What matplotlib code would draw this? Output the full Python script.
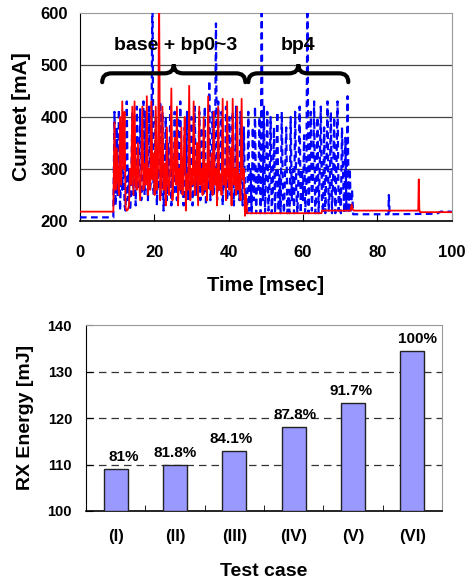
import numpy as np
import matplotlib
matplotlib.use("Agg")
import matplotlib.pyplot as plt
from matplotlib.path import Path
from matplotlib.patches import PathPatch

plt.rcParams['font.family'] = ['Liberation Sans', 'DejaVu Sans']
plt.rcParams['font.weight'] = 'bold'

# ---------------- top chart data ----------------
DT = 0.3
red_pre_t = [0.0, 9.0]
red_pre_v = [218, 218]
red_burst_start = 9.0
red_burst = [
    225, 390, 260, 340, 280, 250, 400, 270, 430, 300,
    410, 225, 220, 222, 230, 300, 270, 420, 250, 430,
    270, 260, 350, 280, 240, 300, 420, 260, 310, 270,
    440, 250, 300, 260, 430, 280, 330, 250, 420, 260,
    300, 640, 240, 280, 420, 260, 310, 230, 380, 270,
    250, 300, 455, 240, 290, 360, 270, 420, 230, 300,
    260, 380, 250, 310, 400, 220, 290, 260, 460, 240,
    300, 270, 430, 250, 280, 350, 230, 420, 270, 300,
    250, 400, 260, 310, 240, 440, 280, 260, 330, 250,
    410, 270, 300, 230, 420, 260, 290, 250, 435, 270,
    300, 240, 430, 280, 260, 340, 230, 435, 270, 300,
    250, 420, 260, 290, 240, 435, 280, 300, 210, 250,
    215,
]
red_post_t = [45.3, 65.0, 65.1, 72.8, 73.1, 73.4, 73.7, 91.0, 91.15, 91.3, 91.5, 100.0]
red_post_v = [215, 215, 220, 220, 232, 222, 220, 220, 280, 222, 217, 217]

blue_pre_t = [0.0, 9.0]
blue_pre_v = [207, 207]
blue_burst_start = 9.0
blue_burst = [
    215, 410, 230, 380, 250, 415, 220, 300, 260, 400,
    230, 220, 430, 240, 300, 220, 260, 410, 250, 350,
    230, 420, 260, 300, 415, 240, 270, 430, 250, 410,
    280, 240, 420, 260, 300, 650, 250, 280, 400, 230,
    300, 260, 430, 250, 410, 220, 290, 400, 240, 350,
    260, 420, 230, 300, 250, 410, 270, 240, 400, 260,
    430, 250, 300, 230, 380, 270, 410, 240, 290, 260,
    400, 230, 280, 420, 250, 300, 260, 410, 240, 380,
    270, 250, 420, 230, 300, 260, 470, 240, 280, 410,
    250, 300, 580, 240, 430, 260, 290, 410, 230, 300,
    260, 420, 240, 280, 400, 250, 300, 410, 230, 270,
    420, 250, 300, 240, 410, 260, 230, 380, 260, 240,
    215, 410, 220, 300, 215, 380, 240, 420, 215, 300,
    260, 400, 215, 650, 240, 420, 215, 300, 410, 220,
    270, 400, 215, 260, 380, 215, 300, 410, 220, 290,
    215, 410, 250, 215, 300, 380, 215, 260, 215, 400,
    240, 300, 215, 410, 260, 215, 290, 420, 215, 300,
    240, 365, 215, 270, 650, 215, 300, 410, 220, 280,
    430, 215, 260, 400, 215, 300, 420, 240, 215, 380,
    215, 300, 430, 220, 260, 410, 215, 280, 400, 215,
    300, 430, 220, 260, 215, 380, 290, 215, 360, 220,
    440, 215, 300, 215, 260, 213, 213, 213,
]
blue_post_t = [74.4, 83.0, 83.1, 83.3, 83.5, 96.0, 97.0, 100.0]
blue_post_v = [213, 213, 250, 216, 213, 214, 218, 218]

top_xticks = [0, 20, 40, 60, 80, 100]
top_yticks = [200, 300, 400, 500, 600]

# ---------------- bottom chart data ----------------
cases = ['(I)', '(II)', '(III)', '(IV)', '(V)', '(VI)']
energy = [109.0, 110.0, 113.0, 118.0, 123.2, 134.4]
pct_labels = ['81%', '81.8%', '84.1%', '87.8%', '91.7%', '100%']
pct_dx = [0.13, 0.0, -0.05, 0.03, -0.03, 0.09]


def series(pre_t, pre_v, start, burst, post_t, post_v):
    bt = [start + DT * i for i in range(len(burst))]
    return (np.array(list(pre_t) + bt + list(post_t)),
            np.array(list(pre_v) + list(burst) + list(post_v)))


fig = plt.figure(figsize=(4.70, 5.81), dpi=100)

# ---- top ----
ax1 = fig.add_axes([0.170, 0.6196, 0.791, 0.358])
bt, bv = series(blue_pre_t, blue_pre_v, blue_burst_start, blue_burst, blue_post_t, blue_post_v)
rt, rv = series(red_pre_t, red_pre_v, red_burst_start, red_burst, red_post_t, red_post_v)
ax1.plot(bt, bv, color='#0000ff', lw=1.6, ls=(0, (3, 2)), zorder=3)
ax1.plot(rt, rv, color='#ff0000', lw=1.3, zorder=4)
ax1.set_xlim(0, 100)
ax1.set_ylim(200, 600)
ax1.set_xticks(top_xticks)
ax1.set_yticks(top_yticks)
for y in [300, 400, 500]:
    ax1.axhline(y, color='#444444', lw=0.9, zorder=1)
ax1.tick_params(axis='x', direction='in', length=5, labelsize=12, pad=17)
ax1.tick_params(axis='y', direction='in', length=0, labelsize=12, pad=8.6)
for lab in ax1.get_xticklabels() + ax1.get_yticklabels():
    lab.set_fontweight('bold')
ax1.spines['top'].set_color('#999999')
ax1.spines['right'].set_color('#999999')
ax1.spines['left'].set_color('black')
ax1.spines['bottom'].set_color('black')
ax1.spines['bottom'].set_linewidth(1.2)
ax1.set_xlabel('Time [msec]', fontsize=14.5, fontweight='bold')
ax1.set_ylabel('Currnet [mA]', fontsize=15, fontweight='bold')
ax1.xaxis.set_label_coords(0.5, -0.3077)
ax1.xaxis.label.set_va('center')
ax1.yaxis.set_label_coords(-0.156, 0.5)
ax1.yaxis.label.set_va('center')
ax1.yaxis.label.set_ha('center')


def brace(ax, x0, x1, y_end, y_body, y_tip, d):
    xm = (x0 + x1) / 2
    verts = [(x0, y_end), (x0, y_body), (x0 + d, y_body),
             (xm - d, y_body),
             (xm, y_body), (xm, y_tip),
             (xm, y_body), (xm + d, y_body),
             (x1 - d, y_body),
             (x1, y_body), (x1, y_end)]
    codes = [Path.MOVETO, Path.CURVE3, Path.CURVE3,
             Path.LINETO,
             Path.CURVE3, Path.CURVE3,
             Path.CURVE3, Path.CURVE3,
             Path.LINETO,
             Path.CURVE3, Path.CURVE3]
    ax.add_patch(PathPatch(Path(verts, codes), fill=False, lw=3, ec='black',
                           capstyle='round', zorder=5))


brace(ax1, 6.0, 44.5, 467, 484, 501, 2.5)
brace(ax1, 45.3, 72.2, 467, 484, 501, 2.5)
ax1.text(25.8, 538, 'base + bp0~3', ha='center', va='center', fontsize=14, fontweight='bold', zorder=6)
ax1.text(58.6, 538, 'bp4', ha='center', va='center', fontsize=14, fontweight='bold', zorder=6)

# ---- bottom ----
ax2 = fig.add_axes([0.183, 0.1205, 0.757, 0.320])
x = np.arange(len(cases))
ax2.bar(x, [e - 100 for e in energy], bottom=100, width=0.405, color='#9999ff',
        edgecolor='#222222', lw=1.0, zorder=3)
ax2.set_xlim(-0.5, len(cases) - 0.5)
ax2.set_ylim(100, 140)
ax2.set_yticks([100, 110, 120, 130, 140])
for y in [110, 120, 130]:
    ax2.axhline(y, color='#333333', lw=0.9, ls=(0, (6, 4)), zorder=1)
ax2.set_xticks(x)
ax2.set_xticklabels(cases)
ax2.set_xticks(np.arange(0.5, len(cases) - 0.5, 1.0), minor=True)
ax2.tick_params(axis='x', which='major', length=0, labelsize=12, pad=12.7)
ax2.tick_params(axis='x', which='minor', direction='in', length=4)
ax2.tick_params(axis='y', direction='in', length=5, labelsize=10.5, pad=10)
for lab in ax2.get_xticklabels() + ax2.get_yticklabels():
    lab.set_fontweight('bold')
for xi, e, p, dx in zip(x, energy, pct_labels, pct_dx):
    ax2.text(xi + dx, e + 1.7, p, ha='center', va='baseline', fontsize=11, fontweight='bold', zorder=6)
ax2.spines['top'].set_color('#999999')
ax2.spines['right'].set_color('#999999')
ax2.spines['bottom'].set_linewidth(1.2)
ax2.set_xlabel('Test case', fontsize=14, fontweight='bold')
ax2.set_ylabel('RX Energy [mJ]', fontsize=14, fontweight='bold')
ax2.xaxis.set_label_coords(0.5, -0.328)
ax2.xaxis.label.set_va('center')
ax2.yaxis.set_label_coords(-0.170, 0.505)
ax2.yaxis.label.set_va('center')
ax2.yaxis.label.set_ha('center')

fig.savefig('out.png', dpi=100)
